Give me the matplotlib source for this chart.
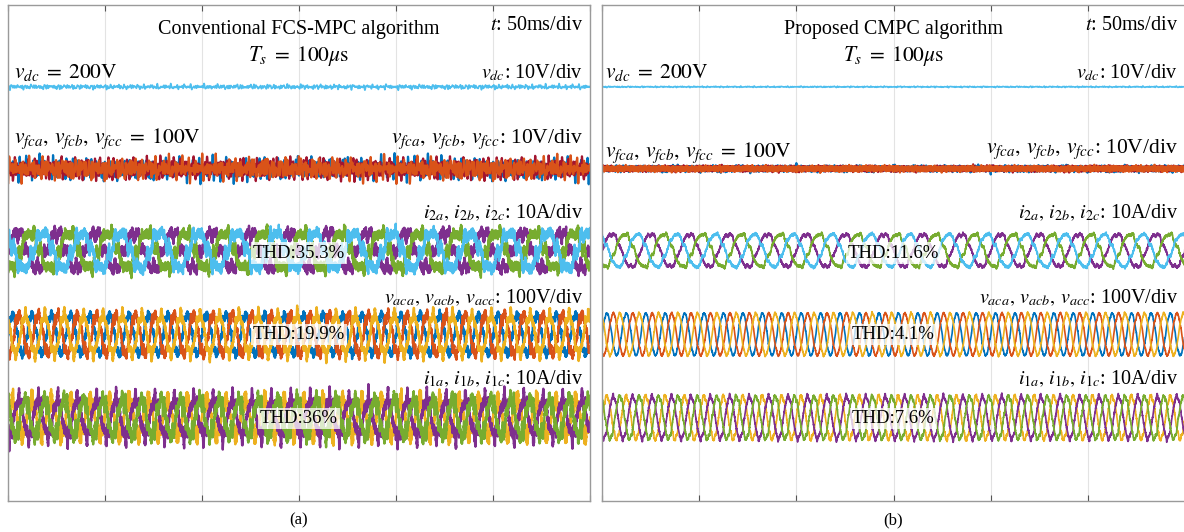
import numpy as np
import matplotlib.pyplot as plt

plt.rcParams['font.family'] = ['Liberation Serif', 'DejaVu Serif']
plt.rcParams['mathtext.fontset'] = 'stix'

# ==============================
# DATA (read from the scope captures)
# ==============================

T_END = 300          # ms, 6 div x 50 ms/div
N_SAMPLES = 6000
F0 = 50              # Hz, base frequency for the harmonic orders
t = np.linspace(0, T_END, N_SAMPLES)

panels = ["(a)", "(b)"]
titles = ["Conventional FCS-MPC algorithm", "Proposed CMPC algorithm"]

# dc link and flying capacitors
vdc_level = 200                 # V
vdc_ripple_rms = [0.22, 0.06]   # V
vfc_level = 100                 # V
vfc_ripple_rms = [1.0, 0.25]    # V

# ac quantities: fundamental frequency (Hz), peak and THD (%)
i2_freq = 50
i2_peak = [3.6, 3.3]            # A
i2_thd = [35.3, 11.6]
vac_freq = 100
vac_peak = [40, 42]             # V
vac_thd = [19.9, 4.1]
i1_freq = 100
i1_peak = [3.7, 4.3]            # A
i1_thd = [36, 7.6]

# interharmonic content of the ripple (orders of 50 Hz, weights)
ripple_orders = [2.3, 5.9, 8.3, 11.7, 14.1, 17.3, 23.3, 31.7, 41.9, 67.1, 89.7, 113.3, 137.9, 163.1, 181.7]
ripple_weights = [0.35, 0.45, 0.5, 0.6, 0.6, 0.7, 0.8, 0.8, 0.9, 1.0, 1.0, 1.0, 0.9, 0.9, 0.8]
dc_max_order = 24               # dc ripple is slower than the ac switching ripple

# low-order harmonics carrying the rest of the distortion
low_orders = [5, 7, 11, 13]
low_weights = [1.0, 0.7, 0.45, 0.35]

# scope settings: scale per division and screen offset (div)
vdc_div, vfc_div, i_div, vac_div = 10, 10, 10, 100
off_vdc, off_vfc, off_i2, off_vac, off_i1 = 8.35, 6.7, 5.05, 3.36, 1.68

# MATLAB default colours
C_BLUE, C_ORANGE, C_YELLOW = "#0072BD", "#D95319", "#EDB120"
C_PURPLE, C_GREEN, C_CYAN, C_RED = "#7E2F8E", "#77AC30", "#4DBEEE", "#A2142F"


def ripple(ch, lo=0.0, hi=1e9):
    out = np.zeros_like(t)
    for k, (o, w) in enumerate(zip(ripple_orders, ripple_weights)):
        if o < lo or o > hi:
            continue
        out += w * np.sin(2 * np.pi * F0 * o * t / 1000 + (k + 1) * (ch + 1) * 2.39996)
    return out / out.std()


def harmonics(freq, ch):
    out = np.zeros_like(t)
    for k, (h, w) in enumerate(zip(low_orders, low_weights)):
        out += w * np.sin(2 * np.pi * freq * h * t / 1000 + (k + 2) * (ch + 1) * 1.3)
    return out / out.std()


def three_phase(freq, peak, thd, ch0):
    waves = []
    for p in range(3):
        fund = peak * np.sin(2 * np.pi * freq * t / 1000 - p * 2 * np.pi / 3)
        d_rms = thd / 100 * peak / np.sqrt(2)
        dist = d_rms * (0.45 * ripple(ch0 + p, lo=20) + 0.85 * harmonics(freq, ch0 + p))
        waves.append(fund + dist)
    return waves


fig = plt.figure(figsize=(11.84, 5.32), dpi=100)
ax_pos = [[7.5 / 1184, 31 / 532, 582.5 / 1184, 496 / 532],
          [602 / 1184, 31 / 532, 583 / 1184, 496 / 532]]

for n in range(2):
    ax = fig.add_axes(ax_pos[n])
    lw = 1.7 if n == 0 else 1.2

    vdc = vdc_level + vdc_ripple_rms[n] * ripple(1 + 10 * n, hi=dc_max_order)
    ax.plot(t, off_vdc + (vdc - vdc_level) / vdc_div, color=C_CYAN, lw=1.2)

    for k, c in enumerate([C_BLUE, C_RED, C_ORANGE]):
        hi = dc_max_order if n == 0 else 200
        vfc = vfc_level + vfc_ripple_rms[n] * ripple(2 + k + 10 * n, hi=hi)
        ax.plot(t, off_vfc + (vfc - vfc_level) / vfc_div, color=c, lw=1.6)

    for w, c in zip(three_phase(i2_freq, i2_peak[n], i2_thd[n], 5 + 10 * n),
                    [C_PURPLE, C_GREEN, C_CYAN]):
        ax.plot(t, off_i2 + w / i_div, color=c, lw=lw)
    for w, c in zip(three_phase(vac_freq, vac_peak[n], vac_thd[n], 8 + 10 * n),
                    [C_BLUE, C_ORANGE, C_YELLOW]):
        ax.plot(t, off_vac + w / vac_div, color=c, lw=lw)
    for w, c in zip(three_phase(i1_freq, i1_peak[n], i1_thd[n], 11 + 10 * n),
                    [C_YELLOW, C_PURPLE, C_GREEN]):
        ax.plot(t, off_i1 + w / i_div, color=c, lw=lw)

    ax.set_xlim(0, T_END)
    ax.set_ylim(0, 10)
    ax.set_xticks(np.arange(0, T_END + 1, 50))
    ax.set_yticks([])
    ax.grid(axis="x", color="#e3e3e3", lw=0.8)
    ax.tick_params(axis="x", direction="in", top=True, bottom=True, length=4,
                   color="#555555", labelbottom=False)
    for s in ax.spines.values():
        s.set_color("#9a9a9a")
        s.set_linewidth(1.0)

    fs = 14.5
    fm = 15.5
    xr = 296.4
    xl = 3.3 if n == 0 else 1.5
    ax.text(150, 9.5, titles[n], ha="center", va="center", fontsize=fs)
    ax.text(150, 8.98, r"$T_s\; =\; 100\mu\mathrm{s}$", ha="center", va="center", fontsize=fm)
    ax.text(xr, 9.58, r"$t$: 50ms/div", ha="right", va="center", fontsize=fs)
    ax.text(xl, 8.63, r"$v_{dc}\; =\; 200\mathrm{V}$", ha="left", va="center", fontsize=fm)
    ax.text(xr, 8.63, r"$v_{dc}$: 10V/div", ha="right", va="center", fontsize=fs)
    ax.text(xl, 7.3 if n == 0 else 7.02,
            r"$v_{fca},\,v_{fcb},\,v_{fcc}\; =\; 100\mathrm{V}$", ha="left", va="center", fontsize=fm)
    ax.text(xr, 7.3 if n == 0 else 7.1,
            r"$v_{fca},\,v_{fcb},\,v_{fcc}$: 10V/div", ha="right", va="center", fontsize=fm)
    ax.text(xr, 5.8, r"$i_{2a},\,i_{2b},\,i_{2c}$: 10A/div", ha="right", va="center", fontsize=fs)
    ax.text(xr, 4.1, r"$v_{aca},\,v_{acb},\,v_{acc}$: 100V/div", ha="right", va="center", fontsize=fs)
    ax.text(xr, 2.46, r"$i_{1a},\,i_{1b},\,i_{1c}$: 10A/div", ha="right", va="center", fontsize=fs)

    box = dict(facecolor="white", edgecolor="none", alpha=0.75, pad=1.5)
    for y, val in zip([5.0, 3.35, 1.67], [i2_thd[n], vac_thd[n], i1_thd[n]]):
        ax.text(150, y, f"THD:{val:g}%", ha="center", va="center", fontsize=13.5, bbox=box)

    fig.text(ax_pos[n][0] + ax_pos[n][2] / 2, 12 / 532, panels[n],
             ha="center", va="center", fontsize=12)

fig.savefig("out.png", dpi=100)
